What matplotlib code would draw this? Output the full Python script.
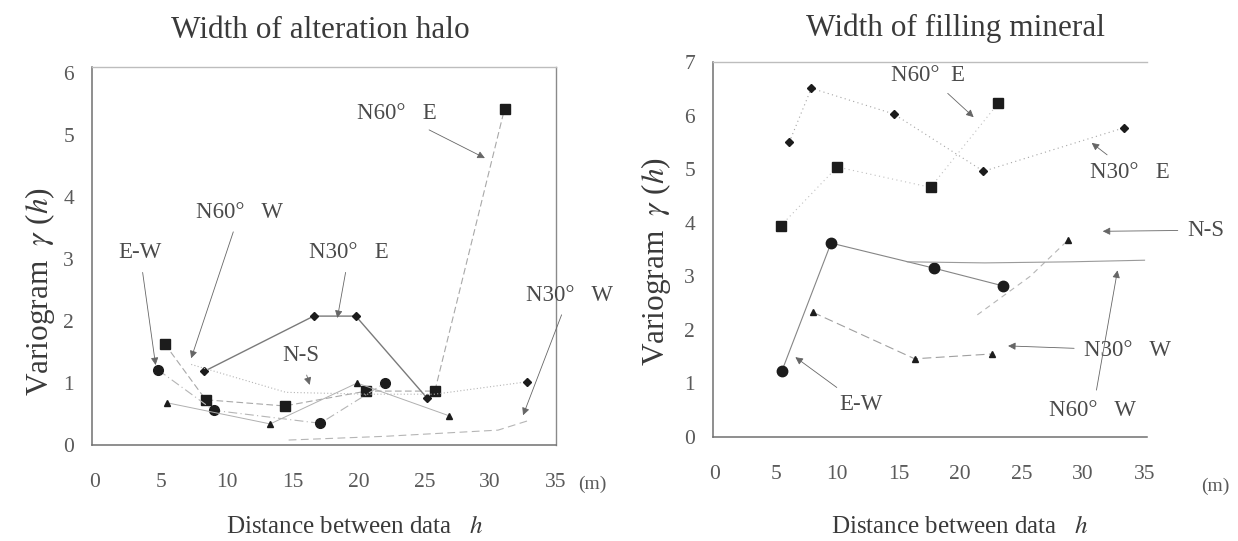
import matplotlib
matplotlib.use("Agg")
import matplotlib.pyplot as plt

plt.rcParams["font.family"] = ["Liberation Serif", "DejaVu Serif"]
plt.rcParams["mathtext.fontset"] = "stix"

# ---- left panel: width of alteration halo ----
halo_ew_x = [4.8, 9.0, 17.1, 22.0]
halo_ew_y = [1.21, 0.56, 0.35, 1.00]
halo_n60e_x = [5.3, 8.4, 14.4, 20.6, 25.8, 31.1]
halo_n60e_y = [1.63, 0.73, 0.63, 0.87, 0.87, 5.43]
halo_ns_x = [5.5, 13.3, 19.9, 26.9]
halo_ns_y = [0.68, 0.34, 1.00, 0.47]
halo_n30e_x = [8.3, 16.6, 19.8, 25.2]
halo_n30e_y = [1.19, 2.08, 2.08, 0.76]
halo_n60w_x = [7.3, 14.5, 20.6, 25.8, 32.8]
halo_n60w_y = [1.30, 0.85, 0.82, 0.82, 1.02]
halo_n30w_x = [14.7, 22.0, 30.6, 33.0]
halo_n30w_y = [0.08, 0.14, 0.24, 0.40]

# ---- right panel: width of filling mineral ----
fill_n60e_x = [5.4, 10.0, 17.6, 23.1]
fill_n60e_y = [3.94, 5.04, 4.66, 6.23]
fill_n30e_x = [6.1, 7.9, 14.6, 21.9, 33.3]
fill_n30e_y = [5.50, 6.51, 6.03, 4.96, 5.77]
fill_ew_x = [5.5, 9.5, 17.9, 23.5]
fill_ew_y = [1.23, 3.62, 3.15, 2.82]
fill_n30w_x = [8.0, 16.3, 22.6]
fill_n30w_y = [2.33, 1.46, 1.55]
fill_ns_x = [21.4, 25.7, 28.8]
fill_ns_y = [2.28, 3.00, 3.68]
fill_n60w_x = [15.7, 22.0, 29.0, 35.0]
fill_n60w_y = [3.27, 3.25, 3.27, 3.30]

x_ticks = [0, 5, 10, 15, 20, 25, 30, 35]
halo_y_ticks = [0, 1, 2, 3, 4, 5, 6]
fill_y_ticks = [0, 1, 2, 3, 4, 5, 6, 7]

MK = "#1c1c1c"
LN = "#a8a8a8"
TX = "#4a4a4a"

fig = plt.figure(figsize=(12.38, 5.41), dpi=100)
ax1 = fig.add_axes([92 / 1238, 1 - 445 / 541, 464 / 1238, 378 / 541])
ax2 = fig.add_axes([713 / 1238, 1 - 437 / 541, 434 / 1238, 375 / 541])


def series(ax, x, y, marker, ms, ls, lw=0.8, color=LN, markevery=None):
    ax.plot(x, y, linestyle=ls, color=color, lw=lw, marker=marker, ms=ms,
            mfc=MK, mec=MK, markevery=markevery, zorder=3)


# left panel
series(ax1, halo_n60e_x, halo_n60e_y, "s", 7, (0, (6, 3)))
series(ax1, halo_ew_x, halo_ew_y, "o", 7, (0, (8, 3, 1, 3)), color="#b5b5b5")
series(ax1, halo_ns_x, halo_ns_y, "^", 5, "-", lw=0.7, color="#b0b0b0")
series(ax1, halo_n30e_x, halo_n30e_y, "D", 4.5, "-", lw=1.0, color="#7a7a7a")
series(ax1, halo_n60w_x, halo_n60w_y, "D", 4.5, (0, (1, 2)), color="#b5b5b5", markevery=[4])
series(ax1, halo_n30w_x, halo_n30w_y, "", 0, (0, (7, 4)), color="#b5b5b5")

# right panel
series(ax2, fill_n60e_x, fill_n60e_y, "s", 7, (0, (1, 3)), color="#c0c0c0")
series(ax2, fill_n30e_x, fill_n30e_y, "D", 4.5, (0, (1, 3)), color="#a5a5a5")
series(ax2, fill_ew_x, fill_ew_y, "o", 7.5, "-", lw=0.8, color="#858585")
series(ax2, fill_n30w_x, fill_n30w_y, "^", 5, (0, (8, 4)), color="#a0a0a0")
series(ax2, fill_ns_x, fill_ns_y, "^", 5, (0, (5, 4)), color="#b5b5b5", markevery=[2])
series(ax2, fill_n60w_x, fill_n60w_y, "", 0, "-", lw=0.8, color="#9a9a9a")

arrow = dict(arrowstyle="-|>", color="#666666", lw=0.6, mutation_scale=11,
             shrinkA=5, shrinkB=0)

halo_labels = [
    ("E-W", (3.4, 3.11), (4.6, 1.29)),
    ("N60°   W", (11.0, 3.76), (7.3, 1.40)),
    ("N30°   E", (19.3, 3.11), (18.4, 2.05)),
    ("N-S", (15.6, 1.45), (16.3, 0.97)),
    ("N60°   E", (22.9, 5.35), (29.6, 4.63)),
    ("N30°   W", (36.0, 2.42), (32.5, 0.48)),
]
fill_labels = [
    ("N60°  E", (17.4, 6.75), (21.1, 5.97)),
    ("N30°   E", (33.8, 4.94), (30.7, 5.49)),
    ("N-S", (40.0, 3.86), (31.6, 3.84)),
    ("N30°   W", (33.6, 1.62), (23.9, 1.70)),
    ("N60°   W", (30.8, 0.50), (32.8, 3.11)),
    ("E-W", (11.9, 0.60), (6.6, 1.49)),
]

for ax, labels in ((ax1, halo_labels), (ax2, fill_labels)):
    for txt, xytext, xy in labels:
        ax.annotate(txt, xy=xy, xytext=xytext, ha="center", va="center",
                    fontsize=16.5, color=TX, arrowprops=arrow,
                    annotation_clip=False)

for ax, yt, ylim, xlim in ((ax1, halo_y_ticks, (0, 6.1), (-0.23, 34.85)),
                           (ax2, fill_y_ticks, (0, 7.0), (-0.1, 35.2))):
    ax.set_xlim(*xlim)
    ax.set_ylim(*ylim)
    ax.set_xticks(x_ticks)
    ax.set_yticks(yt)
    ax.tick_params(length=0, labelsize=15.5, labelcolor="#5a5a5a")
    ax.tick_params(axis="x", pad=20)
    ax.tick_params(axis="y", pad=13)
    for side in ("left", "bottom"):
        ax.spines[side].set_color("#707070")
        ax.spines[side].set_linewidth(1.1)
    ax.spines["top"].set_color("#bdbdbd")
    ax.spines["top"].set_linewidth(1.0)

ax1.spines["right"].set_color("#8a8a8a")
ax1.spines["right"].set_linewidth(1.0)
ax2.spines["right"].set_visible(False)

fig.text(320 / 1238, 1 - 30 / 541, "Width of alteration halo", ha="center",
         va="center", fontsize=22.5, color="#3a3a3a")
fig.text(955 / 1238, 1 - 28 / 541, "Width of filling mineral", ha="center",
         va="center", fontsize=22.5, color="#3a3a3a")

fig.text(40 / 1238, 1 - 292 / 541, r"Variogram  $\gamma$ ($h$)", rotation=90,
         ha="center", va="center", fontsize=22.5, color="#3a3a3a")
fig.text(656 / 1238, 1 - 262 / 541, r"Variogram  $\gamma$ ($h$)", rotation=90,
         ha="center", va="center", fontsize=22.5, color="#3a3a3a")

fig.text(355 / 1238, 1 - 527 / 541, r"Distance between data   $h$", ha="center",
         va="center", fontsize=18, color="#3a3a3a")
fig.text(960 / 1238, 1 - 527 / 541, r"Distance between data   $h$", ha="center",
         va="center", fontsize=18, color="#3a3a3a")

fig.text(592 / 1238, 1 - 484 / 541, "(m)", ha="center", va="center",
         fontsize=14, color="#5a5a5a")
fig.text(1215 / 1238, 1 - 486 / 541, "(m)", ha="center", va="center",
         fontsize=14, color="#5a5a5a")

fig.savefig("out.png", dpi=100, facecolor="white")
